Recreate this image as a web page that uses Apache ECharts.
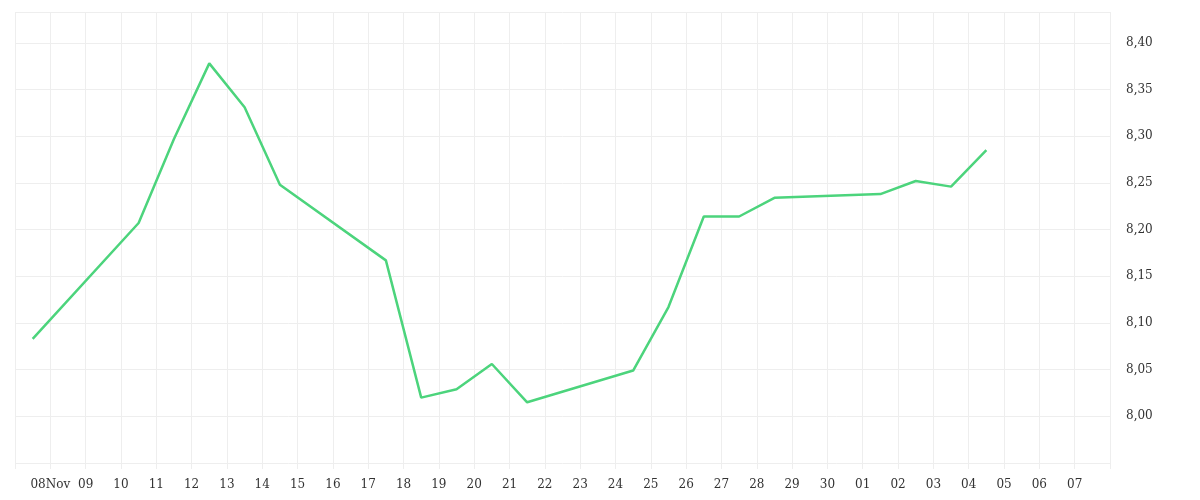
<!DOCTYPE html>
<html>
<head>
    <meta http-equiv="Content-Type" content="text/html; charset=utf-8"/>
    <script src="https://cdn.jsdelivr.net/npm/echarts@6/dist/echarts.min.js"></script>
    <style>html,body{margin:0;padding:0;background:#fff;}</style>
</head>
<body>
<div id="chart" style="width:1200px;height:500px;"></div>
<script type="text/javascript">
    // dates (noon of each day) and rates
    var dates = ['2023-11-07', '2023-11-10', '2023-11-11', '2023-11-12', '2023-11-13', '2023-11-14',
        '2023-11-17', '2023-11-18', '2023-11-19', '2023-11-20', '2023-11-21', '2023-11-24',
        '2023-11-25', '2023-11-26', '2023-11-27', '2023-11-28', '2023-12-01', '2023-12-02',
        '2023-12-03', '2023-12-04'];
    var rates = [8.083, 8.207, 8.297, 8.378, 8.331, 8.248,
        8.167, 8.020, 8.029, 8.056, 8.015, 8.049,
        8.117, 8.214, 8.214, 8.234, 8.238, 8.252,
        8.246, 8.285];

    var DAY = 86400000;
    var seriesData = dates.map(function (d, i) {
        return [new Date(d + 'T12:00:00').getTime(), rates[i]];
    });
    var xMin = new Date('2023-11-07T00:00:00').getTime();
    var xMax = new Date('2023-12-08T00:00:00').getTime();

    var chart = echarts.init(document.getElementById('chart'));
    chart.setOption({
        animation: false,
        textStyle: {fontFamily: 'DejaVu Serif'},
        grid: {left: 15, right: 90, top: 12, bottom: 37},
        xAxis: {
            type: 'time',
            min: xMin,
            max: xMax,
            interval: DAY,
            minInterval: DAY,
            maxInterval: DAY,
            axisLine: {show: false},
            axisTick: {show: true, length: 6, lineStyle: {color: '#eee'}},
            splitLine: {show: true, lineStyle: {color: '#eee'}},
            axisLabel: {
                color: '#333', fontSize: 12, fontFamily: 'DejaVu Serif', margin: 16,
                formatter: function (v) {
                    if (v <= xMin + 1000 || v >= xMax - 1000) return '';
                    var d = new Date(v);
                    var dd = ('0' + d.getDate()).slice(-2);
                    if (d.getDate() === 8 && d.getMonth() === 10) return dd + 'Nov';
                    return dd;
                }
            }
        },
        yAxis: {
            type: 'value',
            position: 'right',
            min: 7.95,
            max: 8.433,
            interval: 0.05,
            axisLine: {show: false},
            axisTick: {show: false},
            splitLine: {show: true, lineStyle: {color: '#eee'}},
            axisLabel: {
                color: '#333', fontSize: 12, fontFamily: 'DejaVu Serif', margin: 16,
                showMinLabel: false, showMaxLabel: false,
                formatter: function (v) { return v.toFixed(2).replace('.', ','); }
            }
        },
        series: [{
            type: 'line',
            data: seriesData,
            symbol: 'none',
            lineStyle: {color: '#4cd47c', width: 2.5}
        }]
    });
</script>
</body>
</html>
